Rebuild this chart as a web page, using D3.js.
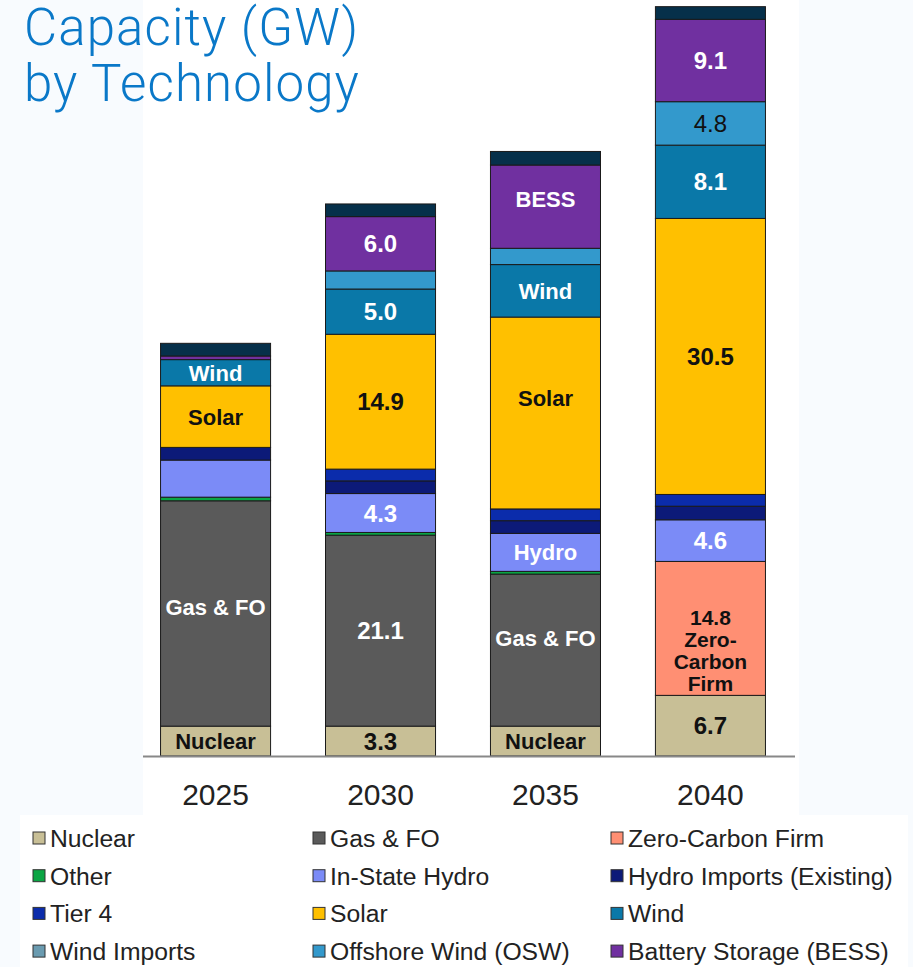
<!DOCTYPE html>
<html>
<head>
<meta charset="utf-8">
<script src="https://cdn.jsdelivr.net/npm/d3@7"></script>
<style>
  body { margin: 0; background: #f8fbfe; }
  svg { display: block; }
</style>
</head>
<body>
<div id="canvas"></div>
<script>
// years on the x axis
var years = ["2025", "2030", "2035", "2040"];

// series, bottom to top
var series = ["Nuclear", "Gas & FO", "Zero-Carbon Firm", "Other", "In-State Hydro",
  "Hydro Imports (Existing)", "Tier 4", "Solar", "Wind", "Wind Imports",
  "Offshore Wind (OSW)", "Battery Storage (BESS)", "Unlisted"];

var colors = ["#c8bf96", "#5a5a5a", "#ff8f73", "#0aa544", "#7b8bf7",
  "#0c1a78", "#0b2cab", "#ffc000", "#0a78a8", "#6a9bb0",
  "#3399cc", "#7030a0", "#06304a"];

// GW per series, per year
var nuclear   = [3.3, 3.3, 3.3, 6.7];
var gasFO     = [24.9, 21.1, 16.8, 0];
var zeroCarb  = [0, 0, 0, 14.8];
var other     = [0.4, 0.3, 0.3, 0];
var hydro     = [4.1, 4.3, 4.2, 4.6];
var hydroImp  = [1.4, 1.4, 1.4, 1.5];
var tier4     = [0, 1.3, 1.3, 1.3];
var solar     = [6.8, 14.9, 21.2, 30.5];
var wind      = [2.9, 5.0, 5.8, 8.1];
var windImp   = [0, 0, 0, 0];
var osw       = [0, 2.0, 1.8, 4.8];
var bess      = [0.4, 6.0, 9.2, 9.1];
var unlisted  = [1.4, 1.4, 1.5, 1.4];

var values = [nuclear, gasFO, zeroCarb, other, hydro, hydroImp, tier4, solar,
  wind, windImp, osw, bess, unlisted];

// text written inside segments: [year index, series index, text]
var segLabels = [
  [0, 0, "Nuclear"], [0, 1, "Gas & FO"], [0, 7, "Solar"], [0, 8, "Wind"],
  [1, 0, "3.3"], [1, 1, "21.1"], [1, 4, "4.3"], [1, 7, "14.9"], [1, 8, "5.0"], [1, 11, "6.0"],
  [2, 0, "Nuclear"], [2, 1, "Gas & FO"], [2, 4, "Hydro"], [2, 7, "Solar"], [2, 8, "Wind"], [2, 11, "BESS"],
  [3, 0, "6.7"], [3, 2, "14.8|Zero-|Carbon|Firm"], [3, 4, "4.6"], [3, 7, "30.5"], [3, 8, "8.1"],
  [3, 10, "4.8"], [3, 11, "9.1"]
];

// legend order (3 columns)
var legendItems = ["Nuclear", "Gas & FO", "Zero-Carbon Firm",
  "Other", "In-State Hydro", "Hydro Imports (Existing)",
  "Tier 4", "Solar", "Wind",
  "Wind Imports", "Offshore Wind (OSW)", "Battery Storage (BESS)"];

var darkText = ["Nuclear", "Solar", "Zero-Carbon Firm", "Offshore Wind (OSW)"];

const W = 913, H = 967;
const svg = d3.select("#canvas").append("svg")
  .attr("width", W).attr("height", H);

// white panels
svg.append("rect").attr("x", 143).attr("y", 0).attr("width", 656).attr("height", 815).attr("fill", "#fff");
svg.append("rect").attr("x", 20).attr("y", 815).attr("width", 888).attr("height", 152).attr("fill", "#fff");

// title
["Capacity (GW)", "by Technology"].forEach(function(t, i) {
  svg.append("text").attr("x", 24).attr("y", 45 + i * 56)
    .attr("font-family", "Roboto").attr("font-weight", 300).attr("font-size", 51)
    .attr("letter-spacing", 1.1)
    .attr("fill", "#0a78c8").text(t);
});

const x = d3.scaleBand().domain(years).range([133, 793]).paddingInner(0.333).paddingOuter(0.167);
const y = d3.scaleLinear().domain([0, 10]).range([756, 665.5]);

// stack data
var table = years.map(function(yr, i) {
  var row = {year: yr};
  series.forEach(function(s, j) { row[s] = values[j][i]; });
  return row;
});
const stacked = d3.stack().keys(series)(table);

const g = svg.append("g");
stacked.forEach(function(layer, j) {
  g.selectAll(null).data(layer.filter(function(d) { return d[1] - d[0] > 0; }))
    .enter().append("rect")
    .attr("x", function(d) { return x(d.data.year); })
    .attr("width", x.bandwidth())
    .attr("y", function(d) { return y(d[1]); })
    .attr("height", function(d) { return y(d[0]) - y(d[1]); })
    .attr("fill", colors[j])
    .attr("stroke", "#1a1a1a").attr("stroke-width", 1);
});

// axis line
svg.append("line").attr("x1", 143).attr("x2", 795).attr("y1", 756.5).attr("y2", 756.5)
  .attr("stroke", "#888").attr("stroke-width", 2);

// year labels
svg.selectAll(".yr").data(years).enter().append("text")
  .attr("x", function(d) { return x(d) + x.bandwidth() / 2; })
  .attr("y", 805)
  .attr("text-anchor", "middle")
  .attr("font-family", "Liberation Sans, Arial").attr("font-size", 30)
  .attr("fill", "#222").text(function(d) { return d; });

// label nudges (px) where the original sits off-centre
var nudge = {"0-1": -6, "2-1": -12, "2-7": -15, "2-11": -8, "3-2": 22};

// segment labels
segLabels.forEach(function(l) {
  var d = stacked[l[1]][l[0]];
  var cx = x(years[l[0]]) + x.bandwidth() / 2;
  var cy = (y(d[0]) + y(d[1])) / 2 + (nudge[l[0] + "-" + l[1]] || 0);
  var lines = l[2].split("|");
  var s = series[l[1]];
  var dark = darkText.indexOf(s) >= 0;
  var bold = s !== "Offshore Wind (OSW)";
  var isNum = /^[\d.]+$/.test(l[2]);
  var lh = 22;
  var fs = s === "Zero-Carbon Firm" ? 21 : (isNum ? 24 : 22);
  var t = svg.append("text")
    .attr("text-anchor", "middle")
    .attr("font-family", "Liberation Sans, Arial")
    .attr("font-weight", bold ? "bold" : "normal")
    .attr("font-size", fs)
    .attr("fill", dark ? "#111" : "#fff");
  var y0 = cy - (lines.length - 1) * lh / 2;
  lines.forEach(function(line, k) {
    t.append("tspan").attr("x", cx).attr("y", y0 + k * lh).attr("dy", "0.36em").text(line);
  });
});

// legend
const leg = svg.append("g");
legendItems.forEach(function(name, i) {
  var col = i % 3, row = Math.floor(i / 3);
  var lx = [33, 313, 611][col];
  var ly = 838 + row * 37.7;
  leg.append("rect").attr("x", lx).attr("y", ly - 6).attr("width", 12).attr("height", 12)
    .attr("fill", colors[series.indexOf(name)]).attr("stroke", "#333").attr("stroke-width", 1);
  leg.append("text").attr("x", lx + 17).attr("y", ly).attr("dy", "0.36em")
    .attr("font-family", "Liberation Sans, Arial").attr("font-size", 24.7)
    .attr("fill", "#222").text(name);
});
</script>
</body>
</html>
